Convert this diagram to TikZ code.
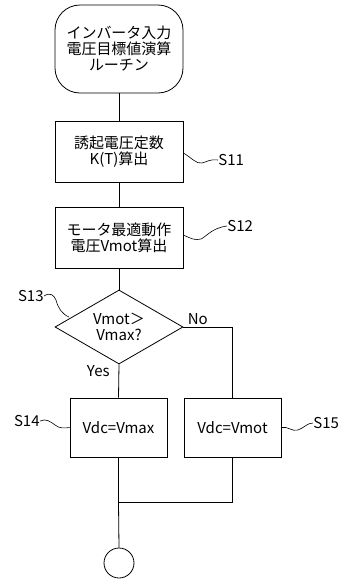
\documentclass[tikz,border=0pt]{standalone}
\usepackage{fontspec}
\setmainfont{Noto Sans CJK JP}
\usetikzlibrary{shapes.geometric, calc}

\begin{document}
\begin{tikzpicture}[x=1pt, y=-1pt, line width=0.8pt,
  every node/.style={font=\fontsize{15}{16}\selectfont, align=center, inner sep=0pt},
  startbox/.style={rectangle, draw, rounded corners=25pt, minimum width=128pt, minimum height=88pt},
  procbox/.style={rectangle, draw, minimum width=128pt, minimum height=61pt},
  smallbox/.style={rectangle, draw, minimum width=97pt, minimum height=59pt},
  decision/.style={diamond, draw, aspect=1.73, minimum width=128pt, minimum height=74pt},
  endnode/.style={circle, draw, minimum size=30pt},
  tag/.style={font=\fontsize{15}{16}\selectfont}]

\useasboundingbox (0,0) rectangle (352,579);

\node(start)[startbox] at (119,49){インバータ入力\\電圧目標値演算\\ルーチン};
\node(s11)[procbox] at (119,151.5){誘起電圧定数\\K(T)算出};
\node(s12)[procbox] at (119,237.5){モータ最適動作\\電圧Vmot算出};
\node(s13)[decision] at (119,327){Vmot＞\\Vmax?};
\node(s14)[smallbox] at (118.5,427.5){Vdc=Vmax};
\node(s15)[smallbox] at (232.5,427.5){Vdc=Vmot};
\node(fin)[endnode] at (119,563){};

\coordinate (join) at ($(s14.south) + (0,45)$);

\draw (start) -- (s11);
\draw (s11) -- (s12);
\draw (s12) -- (s13);
\draw (s13.south) node[anchor=north east, xshift=-9pt, yshift=-1pt]{Yes} -- (s14.north);
\draw (s13.east) node[anchor=south west, xshift=4pt, yshift=2pt]{No} -| (s15.north);
\draw (s14.south) -- (join) -- (fin.north);
\draw (s15.south) |- (join);

% step numbers
\coordinate (t11) at (218,160);
\coordinate (t12) at (227,226);
\coordinate (t13) at (44,296);
\coordinate (t14) at (40,421);
\coordinate (t15) at (313,423);
\node[tag, anchor=west] at (t11){S11};
\node[tag, anchor=west] at (t12){S12};
\node[tag, anchor=east] at (t13){S13};
\node[tag, anchor=east] at (t14){S14};
\node[tag, anchor=west] at (t15){S15};
\draw[line width=0.6pt] (s11.east |- 0,153) .. controls (192,158) and (196,164) .. (202,163) .. controls (207,162) and (209,159) .. (t11);
\draw[line width=0.6pt] (s12.east |- 0,235) .. controls (190,238) and (195,241) .. (201,239) .. controls (207,236) and (212,228) .. (t12);
\draw[line width=0.6pt] (t13) .. controls (50,292) and (54,295) .. (56,300) .. controls (58,308) and (62,314) .. (69,317);
\draw[line width=0.6pt] (t14) .. controls (46,418) and (51,422) .. (55,425) .. controls (60,429) and (65,428) .. (s14.west);
\draw[line width=0.6pt] (s15.east) .. controls (288,426) and (292,432) .. (298,430) .. controls (304,428) and (307,423) .. (t15);
\end{tikzpicture}
\end{document}
